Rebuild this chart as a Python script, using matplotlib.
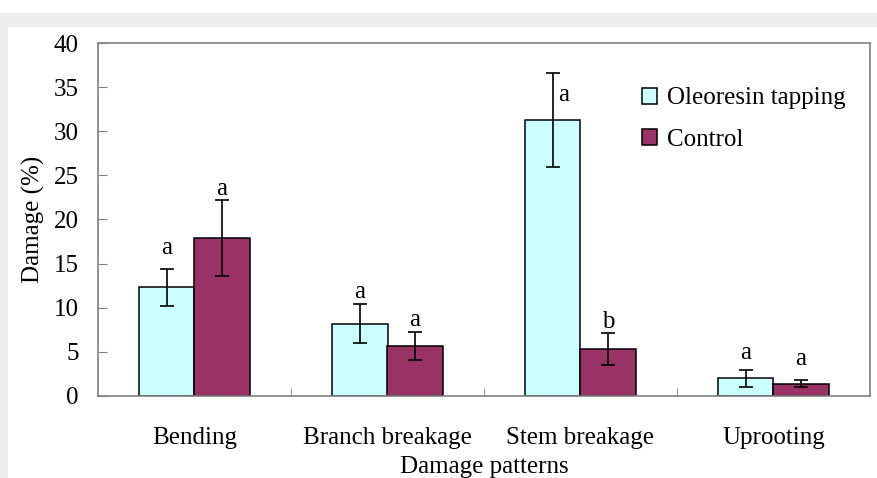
import matplotlib
matplotlib.use("Agg")
import matplotlib.pyplot as plt
import numpy as np
from matplotlib.patches import Rectangle

plt.rcParams['font.family'] = ['Liberation Serif', 'DejaVu Serif']

categories = ["Bending", "Branch breakage", "Stem breakage", "Uprooting"]
series_names = ["Oleoresin tapping", "Control"]
tapping = [12.3, 8.2, 31.3, 2.0]
tapping_err = [2.1, 2.2, 5.3, 1.0]
control = [17.9, 5.7, 5.3, 1.4]
control_err = [4.3, 1.6, 1.8, 0.4]
tapping_letters = ["a", "a", "a", "a"]
control_letters = ["a", "a", "b", "a"]

# letter offsets (points) relative to error-bar tops (style only)
tap_off = [(0, 15), (0, 9), (8, -16), (0, 12)]
ctl_off = [(0, 8), (0, 8), (0, 8), (0, 15)]

FS = 18
W, H = 878, 478
fig = plt.figure(figsize=(W / 100, H / 100), dpi=100)
fig.patch.set_facecolor("#eeeeee")
fig.patches.append(Rectangle((0, 1 - 13 / H), 1, 13 / H, transform=fig.transFigure,
                             facecolor="white", edgecolor="none", zorder=-10))
fig.patches.append(Rectangle((8 / W, 0), 1, 1 - 27 / H, transform=fig.transFigure,
                             facecolor="white", edgecolor="none", zorder=-10))

ax = fig.add_axes([98 / W, 1 - 396 / H, (870 - 98) / W, (396 - 43) / H])
ax.set_facecolor("white")

x = np.arange(len(categories))
bw = 0.285
c1, c2 = "#ccffff", "#993366"
ax.bar(x - bw / 2, tapping, bw, color=c1, edgecolor="black", linewidth=1.1,
       label=series_names[0], zorder=2)
ax.bar(x + bw / 2, control, bw, color=c2, edgecolor="black", linewidth=1.1,
       label=series_names[1], zorder=2)
ax.errorbar(x - bw / 2, tapping, yerr=tapping_err, fmt="none", ecolor="black",
            elinewidth=1.2, capsize=4.8, capthick=1.2, zorder=3)
ax.errorbar(x + bw / 2, control, yerr=control_err, fmt="none", ecolor="black",
            elinewidth=1.2, capsize=4.8, capthick=1.2, zorder=3)

for i in range(len(categories)):
    ax.annotate(tapping_letters[i], (x[i] - bw / 2, tapping[i] + tapping_err[i]),
                xytext=tap_off[i], textcoords="offset points", ha="center",
                va="center", fontsize=FS)
    ax.annotate(control_letters[i], (x[i] + bw / 2, control[i] + control_err[i]),
                xytext=ctl_off[i], textcoords="offset points", ha="center",
                va="center", fontsize=FS)

ax.set_xlim(-0.5, len(categories) - 0.5)
ax.set_ylim(0, 40)
ax.set_yticks(np.arange(0, 41, 5))
ax.set_xticks(x)
ax.set_xticklabels(categories, fontsize=FS)
ax.set_xticks(np.arange(0.5, len(categories) - 0.5, 1), minor=True)
ax.tick_params(axis="x", which="major", length=0, pad=22)
ax.tick_params(axis="x", which="minor", direction="in", length=6, color="#808080")
ax.tick_params(axis="y", direction="in", length=6.5, color="#808080", pad=14,
               labelsize=FS)
for s in ax.spines.values():
    s.set_color("#808080")
    s.set_linewidth(1.2)

ax.set_xlabel("Damage patterns", fontsize=FS, labelpad=5)
ax.set_ylabel("Damage (%)", fontsize=FS, labelpad=6)

ax.legend(loc="upper left", bbox_to_anchor=(0.705, 0.874), frameon=False, fontsize=FS,
          handlelength=0.6, handleheight=0.6, handletextpad=0.4, labelspacing=0.77,
          borderpad=0, borderaxespad=0)

fig.savefig("out.png", dpi=100, facecolor=fig.get_facecolor())
